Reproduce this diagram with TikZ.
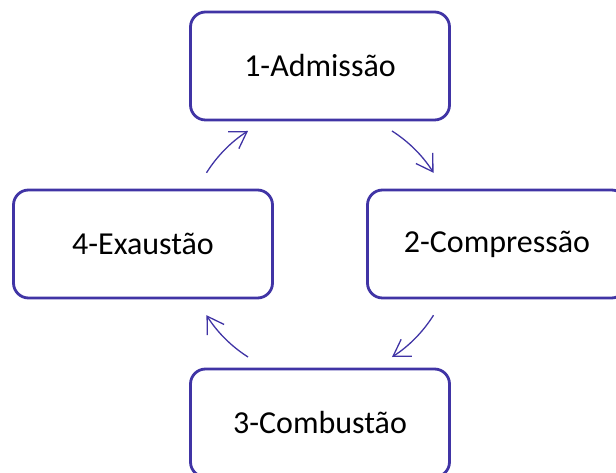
\documentclass[tikz,border=0pt]{standalone}
\usepackage{fontspec}
\setmainfont{Carlito}
\usetikzlibrary{arrows.meta}
\definecolor{cyclecol}{RGB}{64,52,165}
\begin{document}
\begin{tikzpicture}[x=1pt,y=1pt,
  stagebox/.style={draw=cyclecol, line width=2.8pt, rounded corners=15pt, fill=white,
    minimum width=259pt, minimum height=108pt, inner sep=0pt,
    font=\fontsize{32}{38}\selectfont, text=black},
  cyc/.style={draw=cyclecol, line width=1.3pt,
    -{Straight Barb[length=16pt, width=20pt, line width=1.3pt]}}]
\useasboundingbox (0,0) rectangle (616,473);
\clip (0,0) rectangle (616,473);
\coordinate (c) at (320,229);
\node[stagebox] (adm) at (320,407) {1-Admissão};
\node[stagebox] (comp) at (497,229) {2-Compressão};
\node[stagebox] (comb) at (320,50) {3-Combustão};
\node[stagebox] (exa) at (143,229) {4-Exaustão};
\draw[cyc] ([shift={(147.9:134)}]c) arc[start angle=147.9, end angle=122.5, radius=134];
\draw[cyc] ([shift={(57.5:134)}]c) arc[start angle=57.5, end angle=32.1, radius=134];
\draw[cyc] ([shift={(-32.1:134)}]c) arc[start angle=-32.1, end angle=-57.5, radius=134];
\draw[cyc] ([shift={(-122.5:134)}]c) arc[start angle=-122.5, end angle=-147.9, radius=134];
\end{tikzpicture}
\end{document}
